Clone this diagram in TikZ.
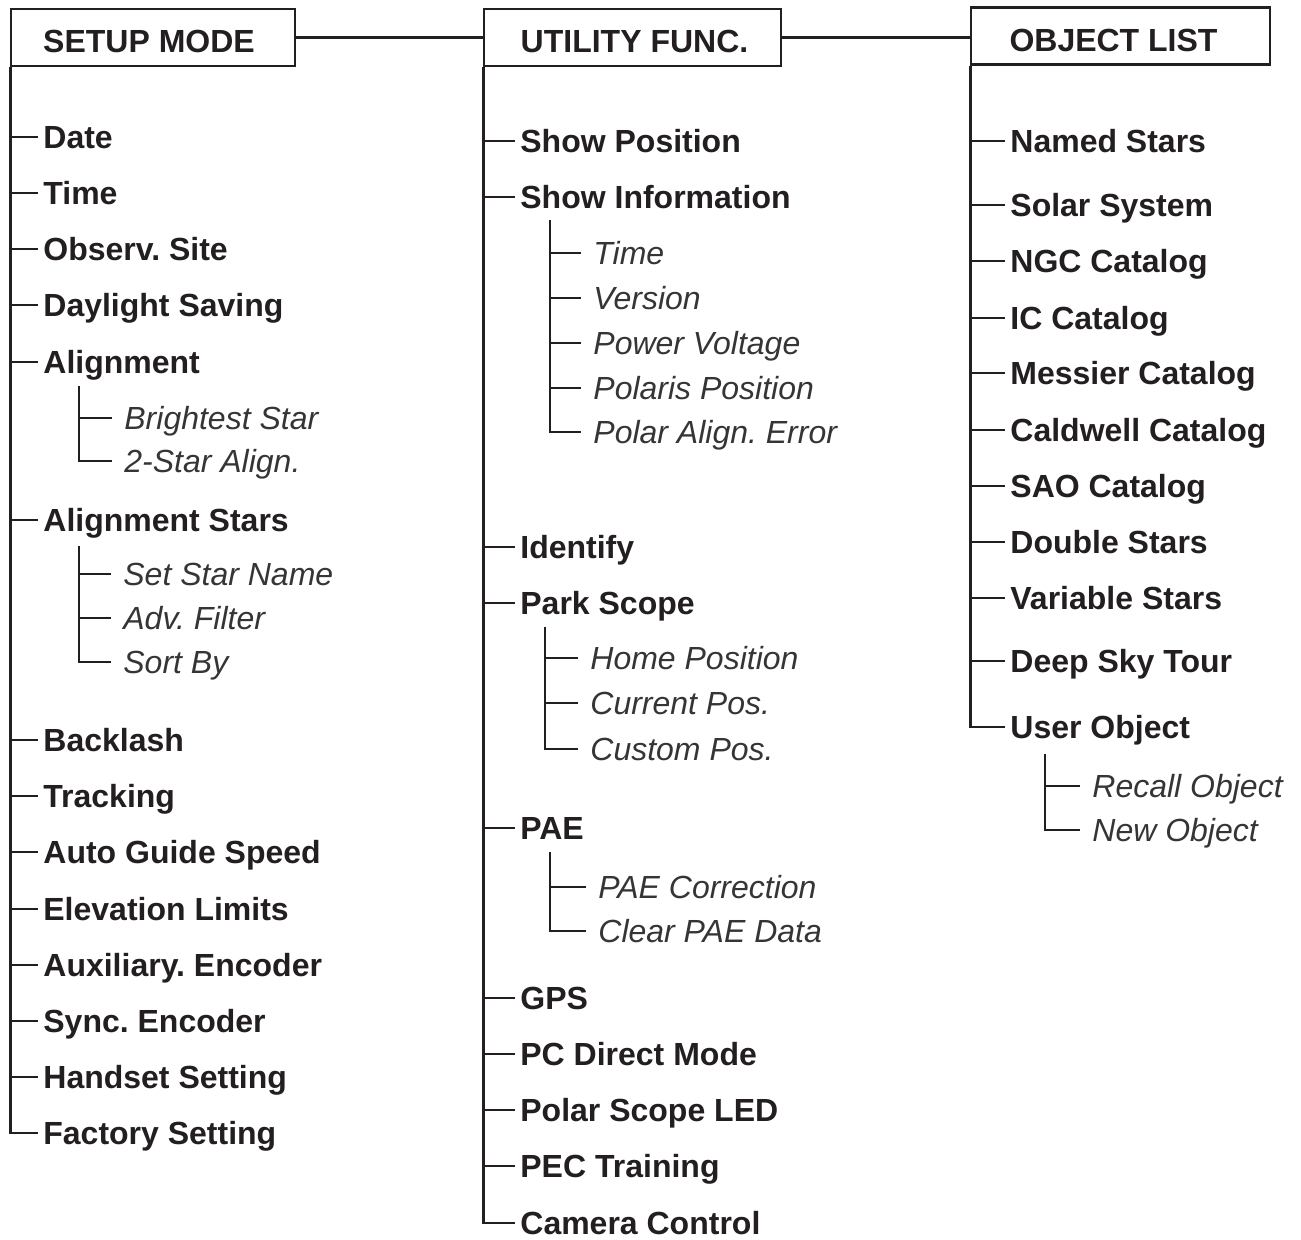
\documentclass[tikz,border=0pt]{standalone}
\usepackage{fontspec}
\setmainfont{Liberation Sans}
\usepackage{xcolor}
\usepackage{tikz}
\usetikzlibrary{positioning, calc}
\frenchspacing
\definecolor{mytext}{RGB}{35,31,32}
\definecolor{mysub}{RGB}{55,52,53}
\newcommand\hdrfont{\fontsize{16pt}{19pt}\selectfont\bfseries}
\newcommand\itemfont{\fontsize{16pt}{19pt}\selectfont\bfseries}
\newcommand\subfont{\fontsize{16pt}{19pt}\selectfont\itshape}
\tikzset{
  hdr/.style={rectangle, draw=mytext, text=mytext, font=\hdrfont,
    minimum height=28.5pt, inner sep=0pt, line width=1.4pt,
    text height=15.5pt, text depth=0pt,
    execute at begin node={\hspace*{#1}}},
  item/.style={anchor=west, text=mytext, font=\itemfont,
    inner xsep=2.5pt, inner ysep=0pt, text height=11.5pt, text depth=0pt},
  subitem/.style={item, text=mysub, font=\subfont, inner xsep=6pt},
  line/.style={line width=1.4pt, color=mytext}
}

\begin{document}
\begin{tikzpicture}[x=0.5pt, y=-0.5pt]
  \useasboundingbox (0,0) rectangle (1301,1240);

  % menu headers
  \node[hdr=-4pt, minimum width=142pt]   (setup) at (153,37.5)   {SETUP MODE};
  \node[hdr=2pt,  minimum width=148.5pt] (util)  at (632.5,37.5) {UTILITY FUNC.};
  \node[hdr=-7pt, minimum width=149.5pt] (objl)  at (1120.5,36)  {OBJECT LIST};
  \draw[line] (setup.east) -- (util.west);
  \draw[line] (util.east) -- (util.east -| objl.west);

  % setup mode
  \node[item] (date)     at (38,137)  {Date};
  \node[item] (time)     at (38,193)  {Time};
  \node[item] (site)     at (38,249)  {Observ. Site};
  \node[item] (dst)      at (38,305)  {Daylight Saving};
  \node[item] (align)    at (38,362)  {Alignment};
  \node[subitem] (bright)  at (112,418) {Brightest Star};
  \node[subitem] (twostar) at (112,461) {2-Star Align.};
  \node[item] (astars)   at (38,520)  {Alignment Stars};
  \node[subitem] (setname) at (111,574) {Set Star Name};
  \node[subitem] (filter)  at (111,618) {Adv. Filter};
  \node[subitem] (sortby)  at (111,662) {Sort By};
  \node[item] (backlash) at (38,740)  {Backlash};
  \node[item] (tracking) at (38,796)  {Tracking};
  \node[item] (guide)    at (38,852)  {Auto Guide Speed};
  \node[item] (elev)     at (38,909)  {Elevation Limits};
  \node[item] (aux)      at (38,965)  {Auxiliary. Encoder};
  \node[item] (sync)     at (38,1021) {Sync. Encoder};
  \node[item] (handset)  at (38,1077) {Handset Setting};
  \node[item] (factory)  at (38,1133) {Factory Setting};

  \coordinate (sm-t) at ([xshift=0.5pt]setup.south west);
  \coordinate (al-t) at (79,386);
  \coordinate (as-t) at (79,546);
  \foreach \n in {date,time,site,dst,align,astars,backlash,tracking,guide,elev,aux,sync,handset}
    \draw[line] (sm-t |- \n.west) -- (\n.west);
  \draw[line] (sm-t) |- (factory.west);
  \draw[line] (al-t |- bright.west) -- (bright.west);
  \draw[line] (al-t) |- (twostar.west);
  \foreach \n in {setname,filter}
    \draw[line] (as-t |- \n.west) -- (\n.west);
  \draw[line] (as-t) |- (sortby.west);

  % utility functions
  \node[item] (showpos)  at (515,141)  {Show Position};
  \node[item] (showinfo) at (515,197)  {Show Information};
  \node[subitem] (itime)    at (581,253) {Time};
  \node[subitem] (version)  at (581,298) {Version};
  \node[subitem] (voltage)  at (581,343) {Power Voltage};
  \node[subitem] (polaris)  at (581,388) {Polaris Position};
  \node[subitem] (palerr)   at (581,432) {Polar Align. Error};
  \node[item] (identify) at (515,547)  {Identify};
  \node[item] (park)     at (515,603)  {Park Scope};
  \node[subitem] (home)     at (578,658) {Home Position};
  \node[subitem] (curpos)   at (578,703) {Current Pos.};
  \node[subitem] (custpos)  at (578,749) {Custom Pos.};
  \node[item] (pae)      at (515,828)  {PAE};
  \node[subitem] (paecorr)  at (586,887) {PAE Correction};
  \node[subitem] (paeclear) at (586,931) {Clear PAE Data};
  \node[item] (gps)      at (515,998)  {GPS};
  \node[item] (pcdirect) at (515,1054) {PC Direct Mode};
  \node[item] (led)      at (515,1110) {Polar Scope LED};
  \node[item] (pec)      at (515,1166) {PEC Training};
  \node[item] (camera)   at (515,1223) {Camera Control};

  \coordinate (uf-t)  at ([xshift=0.5pt]util.south west);
  \coordinate (si-t)  at (550,220);
  \coordinate (pk-t)  at (545,627);
  \coordinate (pae-t) at (550,852);
  \foreach \n in {showpos,showinfo,identify,park,pae,gps,pcdirect,led,pec}
    \draw[line] (uf-t |- \n.west) -- (\n.west);
  \draw[line] (uf-t) |- (camera.west);
  \foreach \n in {itime,version,voltage,polaris}
    \draw[line] (si-t |- \n.west) -- (\n.west);
  \draw[line] (si-t) |- (palerr.west);
  \foreach \n in {home,curpos}
    \draw[line] (pk-t |- \n.west) -- (\n.west);
  \draw[line] (pk-t) |- (custpos.west);
  \draw[line] (pae-t |- paecorr.west) -- (paecorr.west);
  \draw[line] (pae-t) |- (paeclear.west);

  % object list
  \node[item] (named)    at (1005,141) {Named Stars};
  \node[item] (solar)    at (1005,205) {Solar System};
  \node[item] (ngc)      at (1005,261) {NGC Catalog};
  \node[item] (ic)       at (1005,318) {IC Catalog};
  \node[item] (messier)  at (1005,373) {Messier Catalog};
  \node[item] (caldwell) at (1005,430) {Caldwell Catalog};
  \node[item] (sao)      at (1005,486) {SAO Catalog};
  \node[item] (double)   at (1005,542) {Double Stars};
  \node[item] (variable) at (1005,598) {Variable Stars};
  \node[item] (tour)     at (1005,661) {Deep Sky Tour};
  \node[item] (user)     at (1005,727) {User Object};
  \node[subitem] (recall) at (1080,786) {Recall Object};
  \node[subitem] (newobj) at (1080,830) {New Object};

  \coordinate (ol-t) at ([xshift=0.5pt]objl.south west);
  \coordinate (uo-t) at (1045,754);
  \foreach \n in {named,solar,ngc,ic,messier,caldwell,sao,double,variable,tour}
    \draw[line] (ol-t |- \n.west) -- (\n.west);
  \draw[line] (ol-t) |- (user.west);
  \draw[line] (uo-t |- recall.west) -- (recall.west);
  \draw[line] (uo-t) |- (newobj.west);
\end{tikzpicture}
\end{document}
